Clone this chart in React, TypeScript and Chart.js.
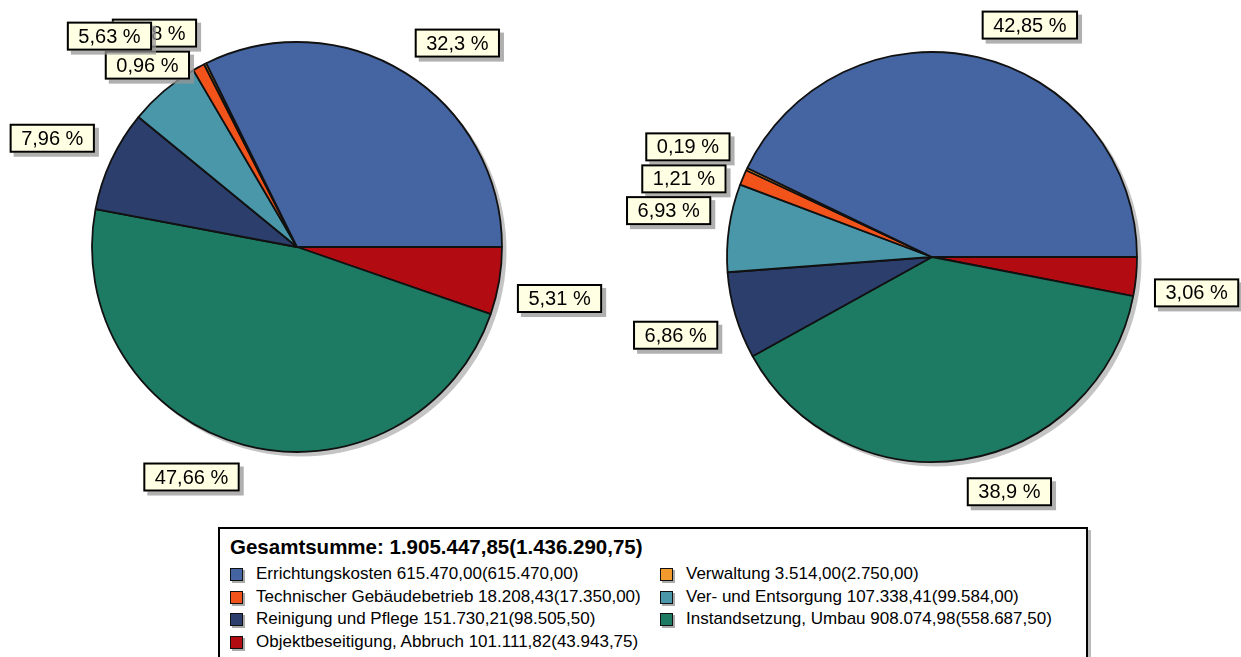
import React, { useEffect, useRef } from "react";
import { Chart, registerables } from "chart.js";

Chart.register(...registerables);

// ---- data (legend / original order) ----
const categories = [
  "Errichtungskosten",
  "Verwaltung",
  "Technischer Gebäudebetrieb",
  "Ver- und Entsorgung",
  "Reinigung und Pflege",
  "Instandsetzung, Umbau",
  "Objektbeseitigung, Abbruch",
];
const currentValues = [615470.0, 3514.0, 18208.43, 107338.41, 151730.21, 908074.98, 101111.82];
const previousValues = [615470.0, 2750.0, 17350.0, 99584.0, 98505.5, 558687.5, 43943.75];
const sliceColors = ["#4465A1", "#F39A2E", "#F2531A", "#4A97A9", "#2B3E6C", "#1E7B63", "#B20B12"];
const totalLabel = "Gesamtsumme";

// ---- helpers ----
function fmtDE(v: number): string {
  const fixed = Math.abs(v).toFixed(2);
  const [intPart, dec] = fixed.split(".");
  const grouped = intPart.replace(/\B(?=(\d{3})+(?!\d))/g, ".");
  return (v < 0 ? "-" : "") + grouped + "," + dec;
}
function fmtPct(p: number): string {
  let s = p.toFixed(2);
  s = s.replace(/0+$/, "").replace(/\.$/, "");
  return s.replace(".", ",");
}
const sum = (a: number[]) => a.reduce((x, y) => x + y, 0);

const LABEL_FONT = '20px "Liberation Sans", Arial, sans-serif';

const pieShadowPlugin = {
  id: "pieShadow",
  beforeDatasetsDraw(chart: any) {
    const meta = chart.getDatasetMeta(0);
    const arc = meta.data[0];
    if (!arc) return;
    const { x, y, outerRadius } = arc.getProps(["x", "y", "outerRadius"], true);
    const ctx = chart.ctx;
    ctx.save();
    ctx.fillStyle = "#C4C4C4";
    ctx.beginPath();
    ctx.arc(x + 4, y + 4, outerRadius + 0.5, 0, Math.PI * 2);
    ctx.fill();
    ctx.restore();
  },
};

const boxLabelPlugin = {
  id: "boxLabels",
  afterDatasetsDraw(chart: any) {
    const ctx = chart.ctx;
    const meta = chart.getDatasetMeta(0);
    const data = chart.data.datasets[0].data as number[];
    const total = sum(data);
    const n = data.length;
    ctx.save();
    ctx.font = LABEL_FONT;
    const boxes: any[] = [];
    for (let k = 0; k < n; k++) {
      const i = n - 1 - k; // chart data is reversed; process in legend order
      const arc = meta.data[i];
      const { x, y, startAngle, endAngle, outerRadius } = arc.getProps(
        ["x", "y", "startAngle", "endAngle", "outerRadius"],
        true
      );
      const mid = (startAngle + endAngle) / 2;
      const d = outerRadius + 18;
      const ax = x + Math.cos(mid) * d;
      const ay = y + Math.sin(mid) * d;
      const text = fmtPct((data[i] / total) * 100) + " %";
      const w = ctx.measureText(text).width + 23;
      const h = 29;
      const left = Math.cos(mid) >= 0 ? ax : ax - w;
      let top = Math.sin(mid) >= 0 ? ay : ay - h;
      for (const b of boxes) {
        if (left < b.left + b.w && left + w > b.left && top < b.top + b.h && top + h > b.top) {
          const up = top + h - b.top;
          const down = b.top + b.h + 3 - top;
          top = up <= down ? top - up : top + down;
        }
      }
      boxes.push({ left, top, w, h, text });
    }
    for (const b of boxes) {
      ctx.fillStyle = "rgba(150,150,150,0.75)";
      ctx.fillRect(b.left + 4, b.top + 4, b.w, b.h);
      ctx.fillStyle = "#FFFFE3";
      ctx.fillRect(b.left, b.top, b.w, b.h);
      ctx.strokeStyle = "#000";
      ctx.lineWidth = 2;
      ctx.strokeRect(b.left + 1, b.top + 1, b.w - 2, b.h - 2);
      ctx.fillStyle = "#000";
      ctx.textAlign = "center";
      ctx.textBaseline = "middle";
      ctx.fillText(b.text, b.left + b.w / 2, b.top + b.h / 2 + 1);
    }
    ctx.restore();
  },
};

function PieCanvas(props: {
  values: number[];
  left: number;
  top: number;
  width: number;
  height: number;
  padRight: number;
}) {
  const ref = useRef<HTMLCanvasElement | null>(null);
  useEffect(() => {
    if (!ref.current) return;
    const rev = <T,>(a: T[]) => a.slice().reverse();
    const chart = new Chart(ref.current, {
      type: "pie",
      data: {
        labels: rev(categories),
        datasets: [
          {
            data: rev(props.values),
            backgroundColor: rev(sliceColors),
            borderColor: "#111",
            borderWidth: 1.8,
          },
        ],
      },
      options: {
        responsive: false,
        animation: false,
        rotation: 90,
        radius: 205,
        layout: { padding: { left: 0, top: 0, bottom: 0, right: props.padRight } },
        plugins: { legend: { display: false }, tooltip: { enabled: false } },
      } as any,
      plugins: [pieShadowPlugin, boxLabelPlugin],
    });
    return () => chart.destroy();
  }, []);
  return (
    <canvas
      ref={ref}
      width={props.width}
      height={props.height}
      style={{ position: "absolute", left: props.left, top: props.top, width: props.width, height: props.height }}
    />
  );
}

export default function App() {
  const legendRowsY = [46, 69, 91, 114];
  const colX = [10, 440];
  const itemFont = '17px "Liberation Sans", Arial, sans-serif';
  return (
    <div
      style={{
        position: "fixed",
        left: 0,
        top: 0,
        width: 1241,
        height: 657,
        overflow: "hidden",
        background: "#fff",
      }}
    >
      <PieCanvas values={currentValues} left={0} top={-13} width={620} height={520} padRight={26} />
      <PieCanvas values={previousValues} left={623} top={-3} width={618} height={520} padRight={0} />
      <div
        style={{
          position: "absolute",
          left: 218,
          top: 527,
          width: 866,
          height: 150,
          border: "2px solid #000",
          background: "#fff",
          boxShadow: "3px 3px 0 #bbb",
        }}
      >
        <div
          style={{
            position: "absolute",
            left: 10,
            top: 6,
            font: 'bold 20.5px "Liberation Sans", Arial, sans-serif',
            whiteSpace: "nowrap",
            color: "#000",
          }}
        >
          {totalLabel}: {fmtDE(sum(currentValues))}({fmtDE(sum(previousValues))})
        </div>
        {categories.map((c, i) => {
          const col = i % 2;
          const row = Math.floor(i / 2);
          const cy = legendRowsY[row];
          return (
            <div key={c}>
              <div
                style={{
                  position: "absolute",
                  left: colX[col],
                  top: cy - 7,
                  width: 11,
                  height: 11,
                  background: sliceColors[i],
                  border: "1px solid #111",
                  boxShadow: "2px 2px 0 #aaa",
                }}
              />
              <div
                style={{
                  position: "absolute",
                  left: colX[col] + 26,
                  top: cy - 11,
                  height: 20,
                  lineHeight: "20px",
                  font: itemFont,
                  whiteSpace: "nowrap",
                  color: "#000",
                }}
              >
                {c} {fmtDE(currentValues[i])}({fmtDE(previousValues[i])})
              </div>
            </div>
          );
        })}
      </div>
    </div>
  );
}
